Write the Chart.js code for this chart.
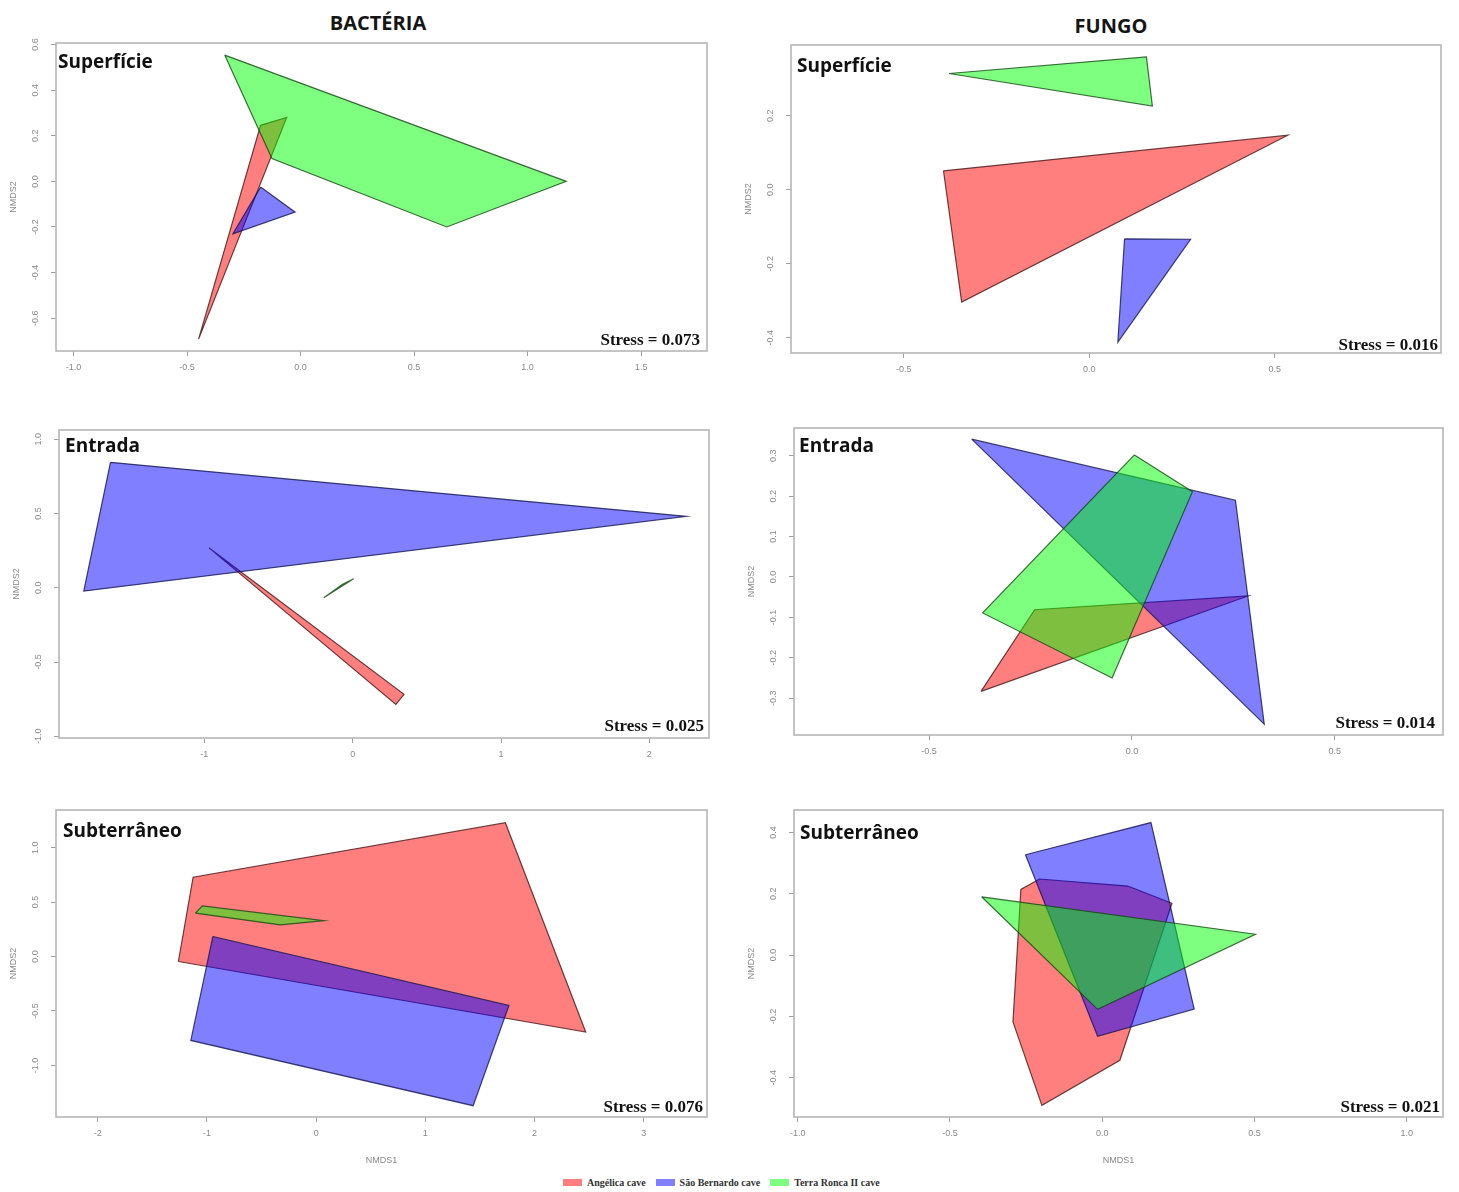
<!DOCTYPE html>
<html>
<head>
<meta charset="utf-8">
<script src="https://cdn.jsdelivr.net/npm/chart.js@4.4.1/dist/chart.umd.min.js"></script>
<style>
  body { margin: 0; background: #fff; }
  #page { position: relative; width: 1459px; height: 1192px; overflow: hidden; background: #fff; }
  #page canvas { position: absolute; }
  .col-title { position: absolute; font-family: 'Open Sans', sans-serif; font-weight: 700; font-size: 20px;
               color: #151515; transform: translateX(-50%); white-space: nowrap; line-height: 1; }
  #legend { position: absolute; left: 563px; top: 1176px; height: 12px; display: flex; align-items: center;
            font-family: 'Liberation Serif', 'Times New Roman', serif; font-weight: 700; font-size: 10px; color: #333; }
  #legend .sw { display: inline-block; width: 19px; height: 7px; margin-right: 5px; }
  #legend .it { display: flex; align-items: center; margin-right: 10px; }
</style>
</head>
<body>
<div id="page">
  <div class="col-title" style="left:378px; top:13px;">BACTÉRIA</div>
  <div class="col-title" style="left:1111px; top:16px;">FUNGO</div>
  <div id="legend"></div>
</div>
<script>
// ---- groups ----
const groupNames = ['Angélica cave', 'São Bernardo cave', 'Terra Ronca II cave'];

// ---- Bactéria / Superfície: hull vertices [NMDS1, NMDS2] ----
const bacSupAngelica = [[-0.449, -0.692], [-0.061, 0.280], [-0.176, 0.246]];
const bacSupSaoBernardo = [[-0.176, -0.025], [-0.024, -0.135], [-0.298, -0.230]];
const bacSupTerraRonca = [[-0.334, 0.554], [1.170, 0.000], [0.644, -0.200], [-0.126, 0.100]];

// ---- Fungo / Superfície ----
const funSupAngelica = [[-0.393, 0.051], [0.535, 0.147], [-0.344, -0.304]];
const funSupSaoBernardo = [[0.095, -0.133], [0.273, -0.134], [0.077, -0.412]];
const funSupTerraRonca = [[-0.378, 0.314], [0.154, 0.359], [0.170, 0.226]];

// ---- Bactéria / Entrada ----
const bacEntAngelica = [[-0.968, 0.269], [0.346, -0.717], [0.291, -0.785]];
const bacEntSaoBernardo = [[-1.633, 0.845], [2.249, 0.482], [-1.813, -0.022]];
const bacEntTerraRonca = [[-0.195, -0.067], [-0.071, 0.022], [0.006, 0.061]];

// ---- Fungo / Entrada ----
const funEntAngelica = [[-0.372, -0.283], [0.286, -0.047], [-0.240, -0.081]];
const funEntSaoBernardo = [[-0.395, 0.341], [0.255, 0.190], [0.326, -0.364]];
const funEntTerraRonca = [[0.006, 0.302], [0.149, 0.211], [-0.049, -0.250], [-0.368, -0.089]];

// ---- Bactéria / Subterrâneo ----
const bacSubAngelica = [[-1.262, -0.046], [-1.127, 0.728], [1.733, 1.229], [2.469, -0.694]];
const bacSubSaoBernardo = [[-0.946, 0.184], [1.766, -0.450], [1.438, -1.370], [-1.148, -0.771]];
const bacSubTerraRonca = [[-1.106, 0.398], [-1.043, 0.465], [0.072, 0.330], [-0.328, 0.290]];

// ---- Fungo / Subterrâneo ----
const funSubAngelica = [[-0.293, -0.218], [-0.267, 0.214], [-0.206, 0.248], [0.084, 0.225],
                        [0.229, 0.169], [0.058, -0.343], [-0.198, -0.490]];
const funSubSaoBernardo = [[-0.252, 0.327], [0.160, 0.432], [0.302, -0.176], [-0.015, -0.265]];
const funSubTerraRonca = [[-0.396, 0.190], [0.503, 0.068], [-0.015, -0.177]];

// ---- tick values ----
const bacSupXTicks = [-1.0, -0.5, 0.0, 0.5, 1.0, 1.5];
const bacSupYTicks = [-0.6, -0.4, -0.2, 0.0, 0.2, 0.4, 0.6];
const funSupXTicks = [-0.5, 0.0, 0.5];
const funSupYTicks = [-0.4, -0.2, 0.0, 0.2];
const bacEntXTicks = [-1, 0, 1, 2];
const bacEntYTicks = [-1.0, -0.5, 0.0, 0.5, 1.0];
const funEntXTicks = [-0.5, 0.0, 0.5];
const funEntYTicks = [-0.3, -0.2, -0.1, 0.0, 0.1, 0.2, 0.3];
const bacSubXTicks = [-2, -1, 0, 1, 2, 3];
const bacSubYTicks = [-1.0, -0.5, 0.0, 0.5, 1.0];
const funSubXTicks = [-1.0, -0.5, 0.0, 0.5, 1.0];
const funSubYTicks = [-0.4, -0.2, 0.0, 0.2, 0.4];

// ---- stress values ----
const stressValues = [0.073, 0.016, 0.025, 0.014, 0.076, 0.021];
const panelNames = ['Superfície', 'Superfície', 'Entrada', 'Entrada', 'Subterrâneo', 'Subterrâneo'];

// ---- styling ----
const fillColors = ['rgba(255,0,0,0.5)', 'rgba(0,0,255,0.5)', 'rgba(0,255,0,0.5)'];
const lineColors = ['rgba(70,20,20,0.8)', 'rgba(20,20,80,0.8)', 'rgba(20,70,20,0.8)'];
const SANS = "'Liberation Sans', Arial, sans-serif";
const TICK_COLOR = '#888888';

// plot-box placement on the page and text offsets
const panels = [
  { box: { l: 56, t: 43, r: 707, b: 351 }, xr: [-1.077, 1.790], yr: [-0.744, 0.607], xDec: 1, yDec: 1,
    hulls: [bacSupAngelica, bacSupSaoBernardo, bacSupTerraRonca], xTicks: bacSupXTicks, yTicks: bacSupYTicks,
    nameAt: [2, 25], stressAt: [7, 6], xTitle: false },
  { box: { l: 791, t: 45, r: 1441, b: 353 }, xr: [-0.804, 0.948], yr: [-0.4415, 0.391], xDec: 1, yDec: 1,
    hulls: [funSupAngelica, funSupSaoBernardo, funSupTerraRonca], xTicks: funSupXTicks, yTicks: funSupYTicks,
    nameAt: [6, 27], stressAt: [3, 3], xTitle: false },
  { box: { l: 59, t: 430, r: 709, b: 738 }, xr: [-1.98, 2.402], yr: [-1.011, 1.063], xDec: 0, yDec: 1,
    hulls: [bacEntAngelica, bacEntSaoBernardo, bacEntTerraRonca], xTicks: bacEntXTicks, yTicks: bacEntYTicks,
    nameAt: [6, 22], stressAt: [5, 7], xTitle: false },
  { box: { l: 794, t: 428, r: 1443, b: 735 }, xr: [-0.833, 0.7666], yr: [-0.391, 0.3686], xDec: 1, yDec: 1,
    hulls: [funEntAngelica, funEntSaoBernardo, funEntTerraRonca], xTicks: funEntXTicks, yTicks: funEntYTicks,
    nameAt: [5, 24], stressAt: [8, 7], xTitle: false },
  { box: { l: 56, t: 810, r: 707, b: 1117 }, xr: [-2.383, 3.58], yr: [-1.474, 1.3456], xDec: 0, yDec: 1,
    hulls: [bacSubAngelica, bacSubSaoBernardo, bacSubTerraRonca], xTicks: bacSubXTicks, yTicks: bacSubYTicks,
    nameAt: [7, 27], stressAt: [4, 5], xTitle: true },
  { box: { l: 794, t: 810, r: 1443, b: 1117 }, xr: [-1.012, 1.119], yr: [-0.528, 0.473], xDec: 1, yDec: 1,
    hulls: [funSubAngelica, funSubSaoBernardo, funSubTerraRonca], xTicks: funSubXTicks, yTicks: funSubYTicks,
    nameAt: [6, 29], stressAt: [3, 5], xTitle: true }
];

const PAD_L = 60, PAD_T = 10, PAD_R = 10, PAD_B = 60;
const fmt = (v, d) => Number(v).toFixed(d);

function buildPanel(p, idx) {
  const page = document.getElementById('page');
  const canvas = document.createElement('canvas');
  const w = p.box.r - p.box.l + PAD_L + PAD_R;
  const h = p.box.b - p.box.t + PAD_T + PAD_B;
  canvas.width = w; canvas.height = h;
  canvas.style.width = w + 'px'; canvas.style.height = h + 'px';
  canvas.style.left = (p.box.l - PAD_L) + 'px';
  canvas.style.top = (p.box.t - PAD_T) + 'px';
  page.appendChild(canvas);

  // first group is painted first, last group ends on top
  const datasets = p.hulls.map((pts, g) => ({
    label: groupNames[g],
    data: pts.concat([pts[0]]).map(([x, y]) => ({ x, y })),
    showLine: true,
    fill: 'shape',
    backgroundColor: fillColors[g],
    borderColor: lineColors[g],
    borderWidth: 1.2,
    pointRadius: 0,
    tension: 0,
    order: 3 - g
  }));

  const decor = {
    id: 'decor' + idx,
    afterDraw(chart) {
      const { ctx, chartArea: a, scales } = chart;
      ctx.save();
      ctx.strokeStyle = '#b6b6b6';
      ctx.lineWidth = 1.6;
      ctx.strokeRect(a.left, a.top, a.right - a.left, a.bottom - a.top);

      ctx.fillStyle = TICK_COLOR;
      ctx.font = '9px ' + SANS;
      ctx.textAlign = 'center';
      ctx.textBaseline = 'middle';
      scales.y.ticks.forEach(t => {
        const py = scales.y.getPixelForValue(t.value);
        ctx.save();
        ctx.translate(a.left - 20, py);
        ctx.rotate(-Math.PI / 2);
        ctx.fillText(fmt(t.value, p.yDec), 0, 0);
        ctx.restore();
      });
      ctx.save();
      ctx.translate(a.left - 42, (a.top + a.bottom) / 2);
      ctx.rotate(-Math.PI / 2);
      ctx.fillText('NMDS2', 0, 0);
      ctx.restore();
      if (p.xTitle) ctx.fillText('NMDS1', (a.left + a.right) / 2, a.bottom + 44);

      ctx.fillStyle = '#111';
      ctx.textAlign = 'left';
      ctx.textBaseline = 'alphabetic';
      ctx.font = "700 19px 'Open Sans', sans-serif";
      ctx.fillText(panelNames[idx], a.left + p.nameAt[0], a.top + p.nameAt[1]);

      ctx.textAlign = 'right';
      ctx.font = "700 17px 'Liberation Serif', 'Times New Roman', serif";
      ctx.fillText('Stress = ' + stressValues[idx].toFixed(3), a.right - p.stressAt[0], a.bottom - p.stressAt[1]);
      ctx.restore();
    }
  };

  new Chart(canvas, {
    type: 'scatter',
    data: { datasets },
    options: {
      responsive: false,
      animation: false,
      devicePixelRatio: 1,
      layout: { padding: { left: 0, top: PAD_T, right: PAD_R, bottom: 0 } },
      plugins: { legend: { display: false }, tooltip: { enabled: false } },
      scales: {
        x: {
          type: 'linear', min: p.xr[0], max: p.xr[1],
          afterBuildTicks: s => { s.ticks = p.xTicks.map(v => ({ value: v })); },
          afterFit: s => { s.height = PAD_B; },
          ticks: { callback: v => fmt(v, p.xDec), color: TICK_COLOR, font: { size: 9, family: SANS },
                   padding: 6, autoSkip: false, maxRotation: 0, minRotation: 0 },
          grid: { display: true, drawOnChartArea: false, drawTicks: true, tickLength: 5, color: '#a0a0a0' },
          border: { display: false }
        },
        y: {
          type: 'linear', min: p.yr[0], max: p.yr[1],
          afterBuildTicks: s => { s.ticks = p.yTicks.map(v => ({ value: v })); },
          afterFit: s => { s.width = PAD_L; },
          ticks: { display: false },
          grid: { display: true, drawOnChartArea: false, drawTicks: true, tickLength: 5, color: '#a0a0a0' },
          border: { display: false }
        }
      }
    },
    plugins: [decor]
  });
}

panels.forEach(buildPanel);

// shared legend
const legend = document.getElementById('legend');
groupNames.forEach((name, g) => {
  const it = document.createElement('span');
  it.className = 'it';
  const sw = document.createElement('span');
  sw.className = 'sw';
  sw.style.background = fillColors[g];
  it.appendChild(sw);
  it.appendChild(document.createTextNode(name));
  legend.appendChild(it);
});
</script>
</body>
</html>
